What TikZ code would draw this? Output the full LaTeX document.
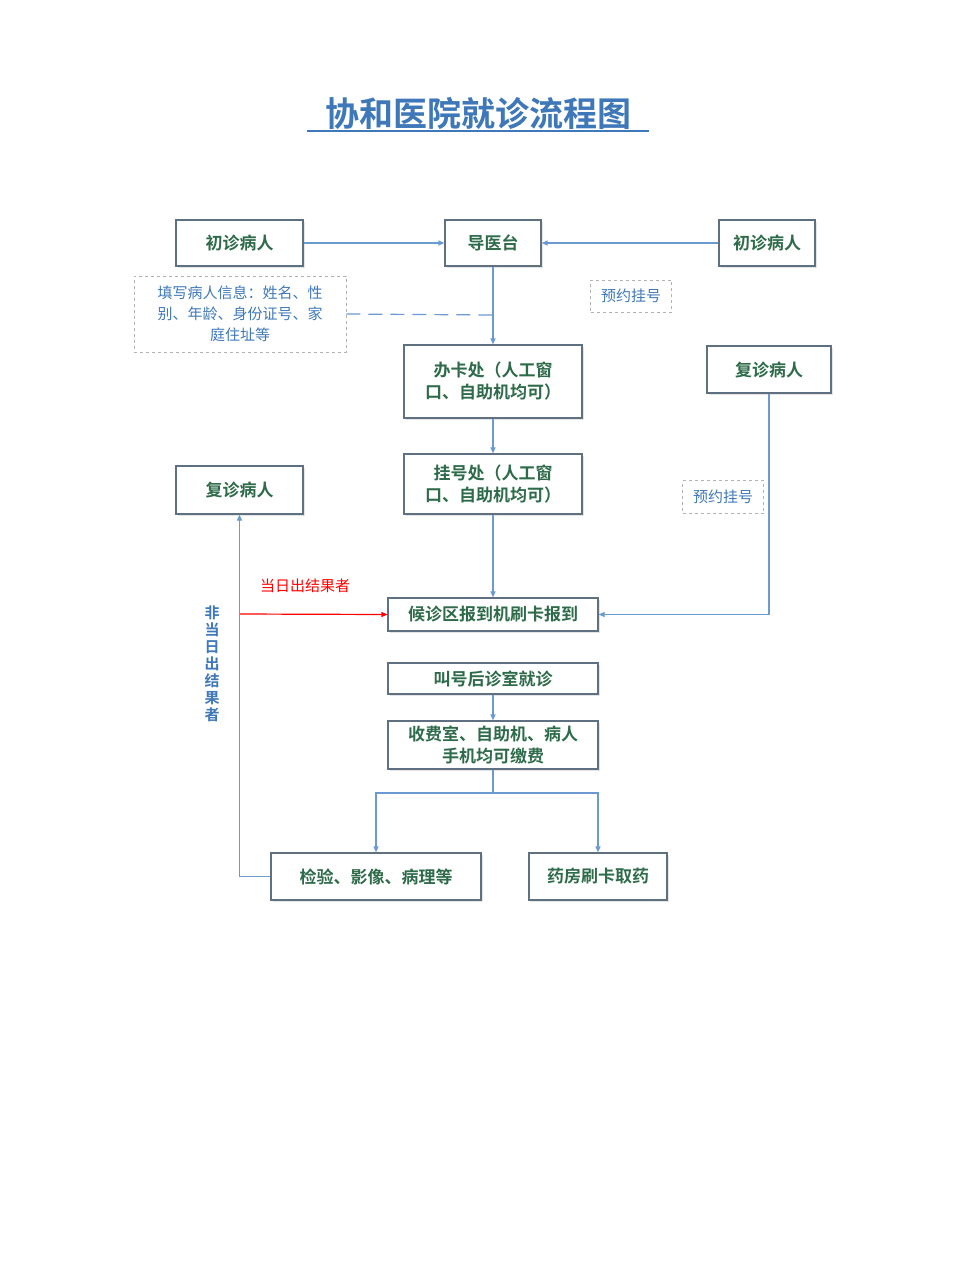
\documentclass[tikz,border=0pt]{standalone}
\usepackage{fontspec}
\newfontfamily\cjk{Noto Sans CJK SC}
\newfontfamily\cjkb{Noto Sans CJK SC Bold}
\usetikzlibrary{arrows.meta,shadows}
\definecolor{tg}{HTML}{2E6B4A}
\definecolor{ln}{HTML}{6A9AD0}
\definecolor{bd}{HTML}{5F7080}
\definecolor{bt}{HTML}{3F78B8}
\tikzset{x=1pt,y=-1pt,
 bx/.style={draw=bd,line width=1.2pt,fill=white,text=tg,font=\cjkb\fontsize{17}{22}\selectfont,inner sep=0pt,align=center,drop shadow={shadow xshift=1.5pt,shadow yshift=-1.5pt,fill=gray!40}},
 db/.style={draw=gray!60,dashed,line width=0.8pt,text=bt,font=\cjk\fontsize{15}{21}\selectfont,inner sep=0pt,align=center},
 con/.style={draw=ln,line width=1.2pt,-{Triangle[length=6pt,width=5pt]}},
 pl/.style={draw=ln,line width=1.2pt}}
\newcommand{\bxat}[5]{\node[bx,minimum width=#3-#1,minimum height=#4-#2] (#5) at ({(#1+#3)/2},{(#2+#4)/2})}
\begin{document}
\begin{tikzpicture}
\useasboundingbox (0,0) rectangle (960,1280);
\node[text=bt,font=\cjkb\fontsize{34}{40}\selectfont] (title) at (478,113) {协和医院就诊流程图};
\draw[bt,line width=1.5pt] (307,131) -- (649,131);
\bxat{176}{220}{303}{266}{a} {初诊病人};
\bxat{445}{220}{541}{266}{g} {导医台};
\bxat{719}{220}{815}{266}{b} {初诊病人};
\node[db,minimum width=212,minimum height=76] (info) at (240,314) {填写病人信息：姓名、性\\别、年龄、身份证号、家\\庭住址等};
\node[db,minimum width=81,minimum height=32] (y1) at (631,296) {预约挂号};
\bxat{404}{345}{582}{418}{k} {办卡处（人工窗\\口、自助机均可）};
\bxat{707}{346}{831}{393}{f2} {复诊病人};
\bxat{404}{454}{582}{514}{r} {挂号处（人工窗\\口、自助机均可）};
\bxat{176}{466}{303}{514}{f1} {复诊病人};
\node[db,minimum width=81,minimum height=33] (y2) at (723,497) {预约挂号};
\bxat{388}{598}{598}{631}{h} {候诊区报到机刷卡报到};
\bxat{388}{663}{598}{694}{j} {叫号后诊室就诊};
\bxat{388}{721}{598}{769}{s} {收费室、自助机、病人\\手机均可缴费};
\bxat{271}{853}{481}{900}{t} {检验、影像、病理等};
\bxat{529}{853}{667}{900}{m} {药房刷卡取药};
\draw[con] (a) -- (g);
\draw[con] (b) -- (g);
\draw[con] (g) -- (k);
\draw[ln,dashed,dash pattern=on 14pt off 8pt,line width=1.2pt] (info.east) -- (493,315);
\draw[con] (k) -- (r);
\draw[con] (r) -- (h);
\draw[con] (f2.south) |- (h.east);
\coordinate (c1) at (240,614);
\draw[con,draw=red] (c1) -- (h.west);
\node[text=red,font=\cjk\fontsize{15}{18}\selectfont] (lab1) at (305,586) {当日出结果者};
\draw[con] (t.west) -| (f1.south);
\node[text=bt,font=\cjkb\fontsize{15}{17}\selectfont,align=center] (lab2) at (212,664) {非\\当\\日\\出\\结\\果\\者};
\draw[con] (j) -- (s);
\coordinate (sp) at (493,793);
\draw[pl] (s.south) -- (sp);
\draw[con] (sp) -| (t.north);
\draw[con] (sp) -| (m.north);
\end{tikzpicture}
\end{document}
